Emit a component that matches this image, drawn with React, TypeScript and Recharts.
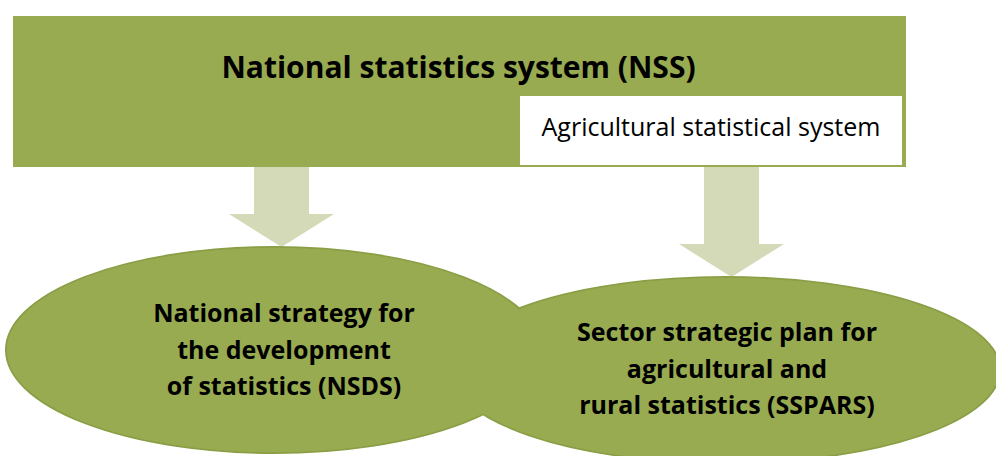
import React from 'react'
import { ScatterChart, Scatter, XAxis, YAxis } from 'recharts'

// diagram nodes: anchor points in page pixels (x right, y down)
const systemBox = [{ name: 'National statistics system (NSS)', x: 459.5, y: 91.5 }]
const subBox = [{ name: 'Agricultural statistical system', x: 711, y: 130 }]
const arrows = [
  { name: 'to NSDS', x: 281.5, y: 167, tip: 247 },
  { name: 'to SSPARS', x: 731.5, y: 167, tip: 277 },
]
const plans = [
  { name: 'NSDS', x: 274, y: 350, rx: 268, ry: 103, lines: ['National strategy for', 'the development', 'of statistics (NSDS)'], tx: 284, ty: 313 },
  { name: 'SSPARS', x: 725, y: 370, rx: 275, ry: 93, lines: ['Sector strategic plan for', 'agricultural and', 'rural statistics (SSPARS)'], tx: 727, ty: 332 },
]

const W = 996
const H = 456
const GREEN = '#98AB51'
const PALE = '#D4DAB7'
const FONT = '"Open Sans", "Noto Sans", sans-serif'

const SystemShape = ({ cx, cy, payload }: any) => (
  <g>
    <rect x={cx - 446.5} y={cy - 75.5} width={893} height={151} fill={GREEN} />
    <text x={cx - 1} y={cy - 13.5} textAnchor="middle" fontFamily={FONT} fontWeight={700} fontSize={30} fill="#000">
      {payload.name}
    </text>
  </g>
)

const SubShape = ({ cx, cy, payload }: any) => (
  <g>
    <rect x={cx - 191} y={cy - 34} width={382} height={69} fill="#fff" />
    <text x={cx} y={cy + 6} textAnchor="middle" fontFamily={FONT} fontSize={25} fill="#000">
      {payload.name}
    </text>
  </g>
)

const ArrowShape = ({ cx, cy, payload }: any) => {
  const tip = payload.tip
  const headY = tip - 33
  const d = `M${cx - 27.5},${cy} L${cx + 27.5},${cy} L${cx + 27.5},${headY} L${cx + 52.5},${headY} L${cx},${tip} L${cx - 52.5},${headY} L${cx - 27.5},${headY} Z`
  return <path d={d} fill={PALE} />
}

// outline pass: both ellipses stroked first so the overlap shows no inner edge
const OutlineShape = ({ cx, cy, payload }: any) => (
  <ellipse cx={cx} cy={cy} rx={payload.rx} ry={payload.ry} fill={GREEN} stroke="#8A9E45" strokeWidth={2} />
)

const PlanShape = ({ cx, cy, payload }: any) => (
  <g>
    <ellipse cx={cx} cy={cy} rx={payload.rx - 0.8} ry={payload.ry - 0.8} fill={GREEN} />
    {payload.lines.map((l: string, i: number) => (
      <text key={i} x={payload.tx} y={payload.ty + i * 36.5 + 9} textAnchor="middle" fontFamily={FONT} fontWeight={700} fontSize={25} fill="#000">
        {l}
      </text>
    ))}
  </g>
)

export default function App() {
  return (
    <div style={{ width: W, height: H, background: '#fff' }}>
      <style>{'body{margin:0}'}</style>
      <ScatterChart width={W} height={H} margin={{ top: 0, right: 0, bottom: 0, left: 0 }}>
        <XAxis type="number" dataKey="x" domain={[0, W]} hide />
        <YAxis type="number" dataKey="y" domain={[0, H]} reversed hide />
        <Scatter data={systemBox} shape={<SystemShape />} isAnimationActive={false} />
        <Scatter data={subBox} shape={<SubShape />} isAnimationActive={false} />
        <Scatter data={arrows} shape={<ArrowShape />} isAnimationActive={false} />
        <Scatter data={plans} shape={<OutlineShape />} isAnimationActive={false} />
        <Scatter data={plans} shape={<PlanShape />} isAnimationActive={false} />
      </ScatterChart>
    </div>
  )
}
